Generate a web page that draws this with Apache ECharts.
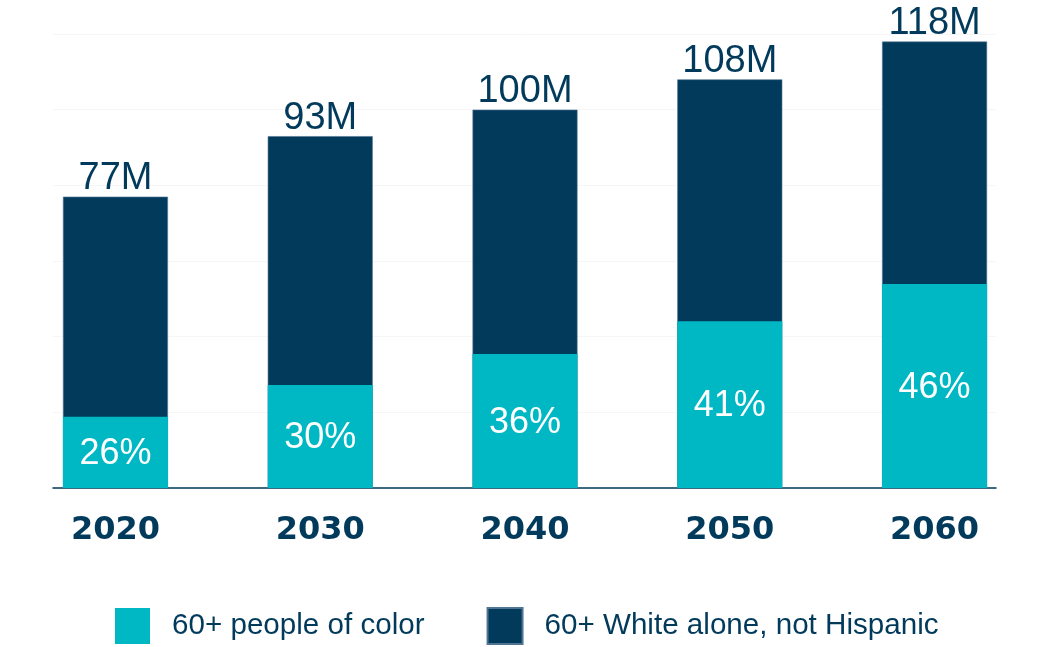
<!DOCTYPE html>
<html>
<head>
<meta charset="utf-8">
<script src="https://cdn.jsdelivr.net/npm/echarts@6/dist/echarts.min.js"></script>
<style>html,body{margin:0;padding:0;background:#fff}#c{width:1046px;height:647px}</style>
</head>
<body>
<div id="c"></div>
<script>
var years = [2020, 2030, 2040, 2050, 2060];
var totalValues = [77, 93, 100, 108, 118];
var colorValues = [18.8, 27.2, 35.4, 44.1, 53.9];
var totalLabels = ['77M', '93M', '100M', '108M', '118M'];
var pctLabels = ['26%', '30%', '36%', '41%', '46%'];
var seriesNames = ['60+ people of color', '60+ White alone, not Hispanic'];

var NAVY = '#023a5c';
var TEAL = '#00b8c4';

var chart = echarts.init(document.getElementById('c'), null, {renderer: 'canvas'});
chart.setOption({
  animation: false,
  grid: {left: 53, right: 50, top: 34, bottom: 159},
  xAxis: {
    type: 'value', min: 2016.95, max: 2063,
    splitLine: {show: false},
    axisLine: {show: true, onZero: false, lineStyle: {color: NAVY, width: 1.5}},
    axisTick: {show: false},
    axisLabel: {
      customValues: years,
      margin: 27,
      color: NAVY,
      fontFamily: 'DejaVu Sans', fontWeight: 'bold', fontSize: 32,
      formatter: function (v) { return String(v); }
    }
  },
  yAxis: {
    type: 'value', min: 0, max: 120, interval: 20,
    axisLine: {show: false}, axisTick: {show: false}, axisLabel: {show: false},
    splitLine: {show: true, lineStyle: {color: '#f6f6f6', width: 1}}
  },
  legend: {
    left: 115, top: 607, padding: 0,
    itemWidth: 35, itemHeight: 36, itemGap: 62,
    icon: 'rect',
    textStyle: {color: NAVY, fontFamily: 'Liberation Sans', fontSize: 29.6, padding: [0, 0, 0, 17]},
    data: seriesNames
  },
  series: [
    {
      name: seriesNames[1], type: 'bar', barWidth: 105, barGap: '-100%',
      data: years.map(function (y, i) { return [y, totalValues[i]]; }),
      itemStyle: {color: NAVY, borderColor: '#4f7593', borderWidth: 0.6},
      label: {
        show: true, position: 'top', distance: -1, color: NAVY,
        fontFamily: 'Liberation Sans', fontSize: 38,
        formatter: function (p) { return totalLabels[p.dataIndex]; }
      },
      z: 2
    },
    {
      name: seriesNames[0], type: 'bar', barWidth: 105, barGap: '-100%',
      data: years.map(function (y, i) { return [y, colorValues[i]]; }),
      itemStyle: {color: TEAL},
      label: {
        show: true, position: 'inside', offset: [0, 2], color: '#fff',
        fontFamily: 'Liberation Sans', fontSize: 36,
        formatter: function (p) { return pctLabels[p.dataIndex]; }
      },
      z: 3
    }
  ]
});
</script>
</body>
</html>
